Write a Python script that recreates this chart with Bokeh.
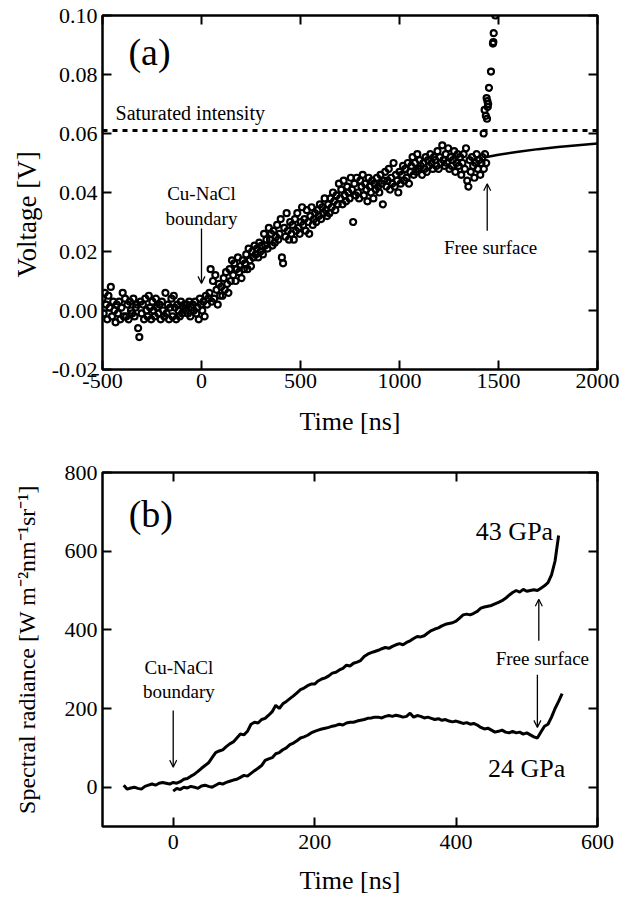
from bokeh.plotting import figure
from bokeh.layouts import column
from bokeh.models import (Range1d, FixedTicker, PrintfTickFormatter, LinearAxis,
                          Label, Arrow, OpenHead, Span, Title)
from bokeh.embed import file_html
from bokeh.resources import INLINE

FONT = "Liberation Serif"

# ---------------- Panel (a) data ----------------
# oscilloscope record, one sample every 6 ns from -500 ns
voltage_mV = [
    4, -1, 6, 2, -3, 5, 1, 8, -2, 3,
    0, -4, 2, -1, 3, -3, 1, 6, -2, 4,
    -2, 2, -3, 3, 0, -1, 4, -2, 1, 2,
    -6, -9, 3, -1, 2, -3, 4, 0, -2, 5,
    1, -3, 3, 0, -2, 4, 1, -1, 2, -3,
    3, 0, -2, 6, -1, 2, -3, 1, 4, -2,
    5, 1, -3, 2, 0, -2, 3, -1, 1, 2,
    0, 2, -1, 3, -2, 1, 2, 0, 3, -1,
    1, -3, 4, 2, 0, 3, -2, 5, 2, 4,
    6, 14, 3, 10, 4, 12, 7, 2, 9, 5,
    8, 5, 11, 7, 13, 9, 6, 14, 10, 17,
    12, 16, 10, 14, 18, 13, 15, 11, 17, 14,
    16, 19, 14, 21, 17, 15, 20, 18, 22, 19,
    21, 18, 23, 20, 22, 19, 26, 22, 24, 21,
    28, 24, 26, 22, 27, 23, 25, 29, 24, 26,
    31, 18, 16, 28, 25, 33, 27, 24, 30, 26,
    29, 24, 31, 27, 33, 28, 26, 30, 35, 29,
    31, 27, 34, 30, 26, 32, 35, 29, 31, 33,
    30, 34, 32, 36, 31, 35, 33, 38, 34, 32,
    36, 33, 38, 35, 40, 37, 34, 39, 36, 43,
    38, 41, 36, 44, 39, 37, 42, 40, 38, 45,
    41, 30, 43, 39, 45, 40, 38, 44, 42, 46,
    39, 43, 41, 37, 45, 42, 40, 44, 38, 43,
    41, 45, 42, 40, 46, 43, 36, 44, 47, 42,
    44, 48, 41, 45, 43, 50, 42, 46, 44, 40,
    47, 43, 46, 49, 44, 48, 45, 50, 43, 47,
    49, 52, 46, 50, 47, 53, 48, 51, 49, 46,
    50, 48, 52, 47, 51, 49, 53, 50, 48, 52,
    51, 49, 54, 48, 52, 50, 56, 51, 49, 53,
    50, 55, 48, 52, 49, 51, 54, 47, 50, 53,
    49, 52, 46, 50, 53, 48, 55, 44, 42, 51,
    47, 52, 49, 45, 50, 53, 48, 51, 46, 50,
    52, 48, 53, 50,
]
time_a = list(range(-500, 1444, 6))

spike_time = [1425, 1430, 1436, 1440, 1444, 1448, 1442, 1446, 1452, 1462, 1472, 1474, 1476, 1484]
spike_mV = [60, 68, 66, 72, 71, 70, 65, 69, 75.5, 81, 90.5, 91, 94, 100]

fit_time = [1440, 1500, 1600, 1700, 1800, 1900, 2000]
fit_V = [0.0520, 0.0528, 0.0538, 0.0547, 0.0554, 0.0560, 0.0566]

saturated_V = 0.061

xticks_a = [-500, 0, 500, 1000, 1500, 2000]
yticks_a = [-0.02, 0.00, 0.02, 0.04, 0.06, 0.08, 0.10]

# ---------------- Panel (b) data ----------------
time_43 = list(range(-70, 550, 5))
radiance_43 = [
    5, -5, -2, 0, -3, -5, 2, 5, 8, 5,
    10, 12, 10, 8, 12, 10, 14, 20, 22, 28,
    33, 40, 48, 55, 62, 75, 88, 92, 95, 103,
    110, 115, 125, 135, 133, 142, 160, 165, 163, 172,
    175, 183, 192, 208, 200, 212, 218, 225, 232, 240,
    248, 252, 258, 262, 262, 270, 275, 278, 283, 290,
    292, 298, 302, 310, 308, 315, 318, 322, 332, 338,
    342, 345, 348, 352, 355, 353, 358, 362, 365, 362,
    368, 372, 378, 383, 382, 385, 392, 398, 402, 405,
    410, 414, 416, 418, 422, 430, 438, 440, 438, 442,
    447, 455, 458, 460, 462, 466, 470, 474, 480, 488,
    495, 500, 496, 503, 498, 500, 502, 500, 506, 512,
    520, 540, 575, 640,
]
time_24 = list(range(0, 555, 5))
radiance_24 = [
    -10, -3, -6, 0, -2, 2, 0, -3, 3, 5,
    2, 0, 5, 10, 8, 12, 15, 18, 20, 25,
    30, 28, 35, 42, 48, 55, 68, 72, 75, 85,
    88, 95, 100, 108, 112, 118, 125, 128, 132, 138,
    142, 145, 148, 150, 152, 155, 157, 160, 158, 163,
    165, 165, 168, 170, 172, 175, 176, 178, 178, 176,
    180, 182, 180, 183, 181, 178, 180, 188, 178, 182,
    180, 176, 178, 175, 172, 174, 170, 172, 168, 166,
    168, 165, 162, 164, 160, 162, 158, 152, 148, 150,
    145, 140, 142, 145, 140, 138, 142, 138, 140, 135,
    138, 133, 128, 125, 140, 155, 160, 178, 200, 218,
    238,
]

xticks_b = [0, 200, 400, 600]
yticks_b = [0, 200, 400, 600, 800]


def style(p, xt, yt, xfmt, yfmt, xlab, ylab, x_lab_standoff, x_label_gap, y_lab_standoff,
          ylab_size="26px"):
    p.grid.visible = False
    p.outline_line_color = "black"
    p.outline_line_width = 2.5
    p.background_fill_color = "white"
    p.border_fill_color = "white"
    for ax in p.xaxis:
        ax.ticker = FixedTicker(ticks=xt)
        ax.formatter = PrintfTickFormatter(format=xfmt)
        ax.axis_label = xlab
        ax.axis_label_standoff = x_label_gap
        ax.major_label_standoff = x_lab_standoff
    for ax in p.yaxis:
        ax.ticker = FixedTicker(ticks=yt)
        ax.formatter = PrintfTickFormatter(format=yfmt)
        ax.axis_label = ylab
        ax.axis_label_standoff = y_lab_standoff
        ax.major_label_standoff = 5
    for ax in list(p.xaxis) + list(p.yaxis):
        ax.axis_line_color = None
        ax.major_tick_in = 9
        ax.major_tick_out = 0
        ax.major_tick_line_width = 2
        ax.major_tick_line_color = "black"
        ax.minor_tick_line_color = None
        ax.major_label_text_font = FONT
        ax.major_label_text_font_size = "22px"
        ax.major_label_text_color = "black"
        ax.axis_label_text_font = FONT
        ax.axis_label_text_font_size = "26px"
        ax.axis_label_text_font_style = "normal"
        ax.axis_label_text_color = "black"
    for ax in p.yaxis:
        ax.axis_label_text_font_size = ylab_size
    # mirrored tick marks (no labels) on top and right
    for loc, ticks in (("above", xt), ("right", yt)):
        ax = LinearAxis(ticker=FixedTicker(ticks=ticks),
                        major_label_overrides={t: "" for t in ticks})
        ax.axis_line_color = None
        ax.major_tick_in = 9
        ax.major_tick_out = 0
        ax.major_tick_line_width = 2
        ax.minor_tick_line_color = None
        ax.major_label_standoff = 0
        p.add_layout(ax, loc)


def label(p, x, y, text, size, align="center"):
    p.add_layout(Label(x=x, y=y, text=text, text_font=FONT, text_font_size=size,
                       text_align=align, text_baseline="middle", text_color="black"))


def arrow(p, x0, y0, x1, y1):
    p.add_layout(Arrow(end=OpenHead(size=7, line_width=1.2, line_color="black"),
                       x_start=x0, y_start=y0, x_end=x1, y_end=y1,
                       line_width=1.3, line_color="black"))


# ---------------- figure (a) ----------------
pa = figure(width=619, height=458, x_range=Range1d(-500, 2000), y_range=Range1d(-0.02, 0.10),
            output_backend="svg", toolbar_location=None,
            min_border_left=102, min_border_right=22, min_border_top=15, min_border_bottom=89)
style(pa, xticks_a, yticks_a, "%d", "%.2f", "Time [ns]", None, 4, 16, 13)
# y title of (a) sits below the frame centre in the original: a left-side title
pa.add_layout(Title(text="Voltage [V]", align="left", offset=92, standoff=14,
                    text_font=FONT, text_font_size="27px", text_font_style="normal",
                    text_color="black"), "left")

pa.add_layout(Span(location=saturated_V, dimension="width", line_color="black",
                   line_width=3, line_dash="5 5"))
pa.line(fit_time, fit_V, line_color="black", line_width=2.5)
pa.scatter(time_a, [v / 1000 for v in voltage_mV], marker="circle", size=6,
           fill_alpha=0, line_color="black", line_width=2.2)
pa.scatter(spike_time, [v / 1000 for v in spike_mV], marker="circle", size=6,
           fill_alpha=0, line_color="black", line_width=2.2)

label(pa, -369, 0.0875, "(a)", "38px", "left")
label(pa, -434, 0.0668, "Saturated intensity", "20px", "left")
label(pa, 0, 0.0397, "Cu-NaCl", "19px")
label(pa, 0, 0.0312, "boundary", "19px")
arrow(pa, 0, 0.0278, 0, 0.0092)
label(pa, 1460, 0.0214, "Free surface", "19px")
arrow(pa, 1443, 0.027, 1443, 0.043)

# ---------------- figure (b) ----------------
pb = figure(width=619, height=440, x_range=Range1d(-100, 600), y_range=Range1d(-100, 800),
            output_backend="svg", toolbar_location=None,
            min_border_left=102, min_border_right=22, min_border_top=14, min_border_bottom=72)
style(pb, xticks_b, yticks_b, "%d", "%d", "Time [ns]",
      "Spectral radiance [W m\u207b\u00b2nm\u207b\u00b9sr\u207b\u00b9]", 8, 14, 22, "24px")

pb.line(time_43, radiance_43, line_color="black", line_width=3)
pb.line(time_24, radiance_24, line_color="black", line_width=3)

label(pb, -63, 694, "(b)", "38px", "left")
label(pb, 428, 651, "43 GPa", "26px", "left")
label(pb, 445, 48, "24 GPa", "26px", "left")
label(pb, 522, 327, "Free surface", "19px")
arrow(pb, 517, 372, 517, 478)
arrow(pb, 515, 286, 515, 152)
label(pb, 8, 304, "Cu-NaCl", "19px")
label(pb, 8, 243, "boundary", "19px")
arrow(pb, 0, 195, 0, 51)

layout = column(pa, pb)
open("out.html", "w").write(file_html(layout, INLINE))
